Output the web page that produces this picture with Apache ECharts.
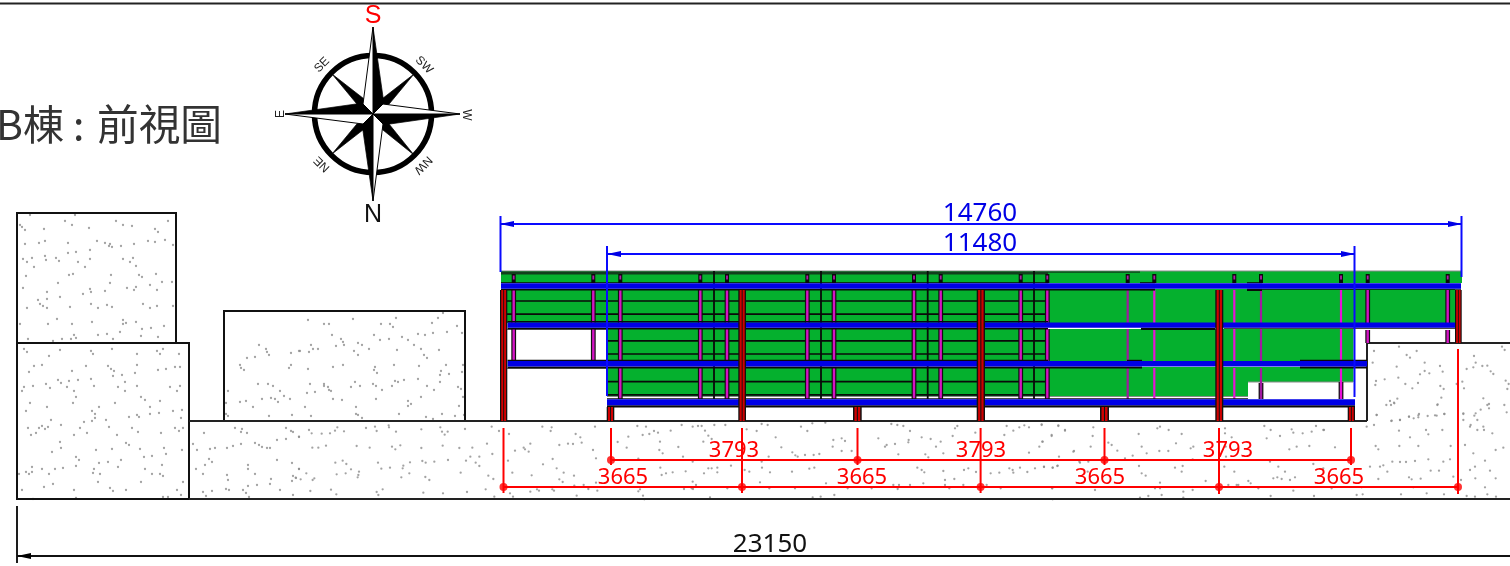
<!DOCTYPE html>
<html><head><meta charset="utf-8">
<style>html,body{margin:0;padding:0;background:#fff;overflow:hidden}#c{width:1510px;height:566px}</style>
<script src="https://cdn.jsdelivr.net/npm/echarts@6/dist/echarts.min.js"></script>
</head><body><div id="c"></div>
<script>
/* ---------- drawing values, in drawing units ---------- */
const groundOutlines = [[17,213,176,343],[17,343,189,499],[224,311,465,421]];
const groundLines = [[189,421,1367,421],[1367,343,1510,343],[1367,343,1367,421],[189,499,1510,499],[0,3.5,1510,3.5]];
const greenAreas = [[501,271,1462,283],[501,289,1455,323],[607,329,1353.5,362],[607,367,1248,396],[1248,367,1353.5,382]];
const railGray = [[501,271,1462,271],[1248,382,1353,382],[607,396.5,1248,396.5],[507,329.5,607,329.5],[507,368.5,607,368.5]];
const darkStrip = [[501,271.5,1048,274.6],[1048,271.5,1140,272.8]];
const thinHorizontal = [[507,301,1048,301],[507,314.2,1048,314.2],[607,340.8,1048,340.8],[607,354,1048,354],[607,381.7,1048,381.7],[607,394.8,1048,394.8]];
const thinVerticalX = [714,821,927.7,1034];
const outlinedPostX = [620.3,700.3,727,807.3,834,914,940.7,1020.7,1047.3];
const outlinedPostShortX = [513.7,593.3];
const thinPostMagentaX = [1154.3,1234.3,1341];
const thinPostPurpleX = [1127.7,1261];
const outlinedPostEndX = [1367.7,1447.7];
const outlinedPostExtra = [[1261,383,399],[1341,382,399]];
const beams = [[501,283.3,1461,288.7],[507.5,322.5,1455,327.7],[507.5,361,1367,366.5],[607,399.2,1355,405.3]];
const beamUnder = [[501,288.7,1140,290.6],[1140,288.7,1155,290.6],[1247,288.7,1262,291],[1262,288.7,1461,289.8],[507.5,327.7,1048,329.6],[1141,327.7,1215,330],[1224,327.7,1455,328.8],[507.5,366.5,1142,368.6],[1300,366.5,1367,368.6],[607,405.3,1355,407.6]];
const beamOver = [[501,282.2,1048,283.3],[1140,282.2,1155,283.3],[1247,282.2,1262,283.3],[507.5,321,1048,322.5],[507.5,359.8,1048,361],[1127,359.8,1142,361],[1300,359.8,1367,361],[607,398.2,1248,399.2]];
const tallColumns = [[500,290,507.3,421],[738.3,290,746,421],[976.7,290,985,421],[1215.3,290,1223.3,421],[1455,290,1461.7,343]];
const shortColumns = [[606.7,407,614.3,421],[853,407,861.7,421],[1100,407,1109,421],[1347.7,407,1355,421]];
const blueLines = [[500,224,1462,224],[607,254,1355,254],[500.5,216,500.5,272],[1461.5,216,1461.5,277],[607,246,607,396],[1354.5,246,1354.5,397]];
const blueArrows = [[[500,224],[514,221],[514,227]],[[1462,224],[1448,221],[1448,227]],[[607,254],[621,251],[621,257]],[[1355,254],[1341,251],[1341,257]]];
const blackDimLines = [[17,556,1510,556],[17,506,17,563]];
const blackArrows = [[[17,556],[31,553],[31,559]]];
const redDim1X = [611,857.5,1104.5,1351];
const redDim2X = [503.5,742,980.6,1219,1458];
const redLines = [[611,460,1351,460],[503.5,487,1458,487],[611,428,611,465],[857.5,428,857.5,465],[1104.5,428,1104.5,465],[1351,428,1351,465],[503.5,428,503.5,493],[742,428,742,493],[980.6,428,980.6,493],[1219,428,1219,494],[1458,349,1458,494]];
const redDots1Y = 460, redDots2Y = 487;

const dimTexts = [
 ['14760',980,214,26,'#0000e6'],['11480',980,244,26,'#0000e6'],
 ['3793',734,451,22,'#ff0000'],['3793',981,451,22,'#ff0000'],['3793',1228,451,22,'#ff0000'],
 ['3665',623,478,22,'#ff0000'],['3665',862,478,22,'#ff0000'],['3665',1100,478,22,'#ff0000'],['3665',1339,478,22,'#ff0000'],
 ['23150',770,545,26,'#111111']];
const compassCenter = [373,114];
const compassTexts = [
 ['S',373,16,25,'#ff0000',0],['N',373,215,25,'#111111',0],
 ['SE',322,65,12,'#222222',45],['SW',424,65,12,'#222222',-45],
 ['E',281,114,12,'#222222',90],['W',466,115,12,'#222222',-90],
 ['NE',322,164,12,'#222222',135],['NW',423,165,12,'#222222',-135]];
const compassBlack = [
 [[332,74],[361,109],[368,102]],
 [[414,74],[378,102],[385,109]],
 [[332,154],[361,119],[368,126]],
 [[414,155],[385,119],[378,126]],
 [[373,27],[384,104],[373,114]],[[285,114],[363,103],[373,114]],
 [[373,201],[362,124],[373,114]],[[460,114],[383,125],[373,114]]];
const compassWhite = [
 [[373,27],[363,104],[373,114]],[[285,114],[363,124],[373,114]],
 [[373,201],[383,124],[373,114]],[[460,114],[383,104],[373,114]]];

/* speckle: drawing units */
const speckleTallBlock = [[30,215],[75,215],[65,221],[116,221],[168,221],[20,225],[22,227],[25,230],[44,229],[72,225],[89,228],[123,225],[132,226],[155,229],[158,232],[25,244],[39,243],[45,241],[68,243],[97,241],[105,243],[110,244],[109,246],[112,247],[121,246],[134,244],[148,241],[155,242],[165,240],[173,245],[90,250],[68,253],[76,252],[23,259],[32,258],[45,256],[46,260],[27,262],[34,267],[56,258],[59,261],[78,262],[90,259],[85,267],[123,259],[130,262],[133,258],[136,266],[26,276],[69,275],[73,274],[111,275],[139,275],[142,277],[156,274],[58,283],[110,283],[162,282],[172,282],[150,285],[23,288],[90,289],[91,292],[47,292],[83,294],[105,291],[127,288],[136,287],[134,290],[157,290],[60,297],[38,300],[47,299],[40,304],[43,306],[47,308],[27,308],[70,307],[91,304],[98,308],[107,305],[112,307],[143,304],[150,308],[157,306],[173,306],[57,319],[123,320],[20,324],[48,324],[72,324],[92,322],[123,324],[126,323],[136,322],[164,326],[142,329],[151,328],[120,332],[98,335],[107,334],[74,335],[141,336],[158,337],[76,338],[71,339],[62,339],[113,339],[28,339],[53,341]];
const speckleLowerLeft = [[24,349],[27,352],[60,350],[49,356],[91,351],[93,354],[112,349],[137,354],[157,351],[163,349],[160,354],[179,354],[34,366],[42,365],[29,372],[72,371],[86,366],[108,366],[111,369],[114,371],[137,365],[158,370],[166,369],[175,367],[180,367],[113,376],[122,375],[135,373],[91,379],[58,380],[61,383],[69,381],[78,380],[125,382],[46,384],[24,387],[33,386],[50,388],[22,391],[67,387],[74,391],[94,386],[118,387],[125,391],[137,386],[170,387],[177,391],[180,386],[76,397],[141,397],[145,400],[30,403],[73,403],[115,403],[160,401],[47,407],[99,407],[150,407],[26,411],[92,411],[173,411],[182,410],[95,414],[95,418],[150,414],[159,413],[129,417],[137,415],[139,417],[181,418],[51,420],[92,421],[84,422],[106,420],[61,425],[28,428],[39,428],[42,426],[45,429],[48,427],[80,428],[109,427],[132,428],[175,428],[183,428],[179,431],[36,433],[31,435],[74,435],[87,433],[117,435],[138,432],[161,433],[60,442],[126,443],[129,445],[61,448],[96,450],[112,449],[140,449],[164,448],[182,450],[52,452],[166,454],[76,457],[79,460],[144,457],[152,456],[121,460],[99,463],[108,462],[162,465],[32,467],[76,466],[118,467],[42,469],[55,469],[63,468],[94,469],[145,469],[26,472],[32,472],[19,474],[29,474],[49,474],[93,473],[100,474],[152,474],[160,474],[163,476],[98,482],[141,482],[183,482],[53,484],[44,487],[110,488],[22,490],[74,490],[113,491],[126,490],[177,490],[181,495],[163,497],[168,497],[76,498],[33,499]];
const speckleGroundLeft = [[204,433],[235,428],[242,429],[241,432],[247,433],[286,428],[291,431],[293,432],[299,437],[277,440],[286,439],[255,443],[259,445],[262,447],[267,448],[270,448],[241,444],[233,446],[227,448],[215,448],[210,449],[193,444],[197,450],[209,459],[212,462],[205,465],[248,465],[248,469],[277,460],[292,463],[299,469],[196,469],[203,474],[227,475],[255,474],[228,480],[271,479],[293,476],[296,478],[292,481],[248,486],[257,485],[270,484],[226,489],[229,490],[243,490],[280,490],[203,492],[212,491],[246,493],[293,495],[206,496],[249,497]];
const speckleMiddleBlock = [[259,345],[266,349],[267,352],[269,355],[255,357],[247,358],[291,353],[299,351],[240,365],[241,368],[244,370],[291,365],[289,368],[258,384],[268,384],[273,386],[280,391],[284,396],[290,399],[228,391],[262,399],[271,398],[275,399],[278,402],[240,402],[246,401],[253,407],[226,403],[226,414],[228,416],[269,416],[292,415],
 [308,320],[324,324],[329,324],[353,319],[381,324],[390,324],[393,327],[396,318],[432,323],[438,318],[443,313],[457,326],[332,335],[374,335],[418,334],[425,335],[433,333],[447,332],[462,333],[341,339],[343,342],[344,345],[336,346],[358,343],[362,345],[380,340],[389,339],[402,337],[408,340],[414,345],[311,345],[313,349],[318,349],[300,351],[309,352],[354,351],[369,349],[397,350],[421,349],[439,350],[358,355],[424,355],[427,358],[308,369],[333,367],[343,365],[375,367],[374,370],[377,373],[394,365],[419,366],[446,365],[463,365],[441,371],[440,375],[449,374],[462,372],[418,379],[404,380],[395,381],[398,382],[440,382],[355,382],[310,384],[324,384],[324,386],[328,387],[351,387],[360,386],[373,384],[376,386],[392,386],[427,386],[458,387],[329,390],[331,391],[382,390],[434,390],[461,389],[307,393],[315,392],[463,397],[333,399],[342,400],[376,399],[421,397],[408,401],[411,404],[408,406],[305,407],[356,407],[459,406],[399,414],[356,414],[358,415],[311,416],[362,418],[426,417],[442,414],[455,416],[433,419],[464,415]];
/* speckle measured on 3x crops: [crop x, crop y]; crop origins below */
const speckleCropA = [[12,50],[42,30],[50,40],[80,41],[105,40],[120,32],[127,22],[147,34],[213,24],[240,20],[245,33],[281,16],[282,22],[303,35],[379,28],[436,22],[441,35],[449,44],[458,35],[510,27],[590,20],[612,33],[642,42],[742,20],[770,22],[767,33],[900,20],[842,42],[856,52],[1000,50],[1027,18],[1053,20],[1043,45],[1063,42],[1077,33],[1089,38],[1127,32],[1160,15],[52,83],[70,83],[93,77],[185,78],[224,83],[291,80],[301,88],[316,76],[379,84],[443,77],[493,84],[532,83],[576,71],[686,83],[706,71],[690,88],[701,95],[660,92],[793,75],[819,71],[834,72],[860,68],[894,90],[968,66],[995,83],[1095,65],[1093,90],[1103,100],[1150,81],[1164,110],[592,102],[526,110],[513,122],[553,110],[382,123],[392,128],[418,125],[459,120],[121,128],[143,122],[154,132],[249,128],[345,127],[325,137],[542,128],[553,138],[639,122],[773,117],[903,115],[744,133],[1030,116],[1193,125],[12,147],[34,160],[125,163],[152,160],[168,148],[192,155],[190,165],[259,146],[285,143],[323,145],[343,160],[497,158],[652,158],[710,166],[785,145],[806,158],[837,167],[1096,143],[1113,160],[1100,165],[1133,157],[1172,154],[2,173],[17,178],[58,175],[53,180],[188,172],[319,172],[391,171],[403,180],[580,167],[595,177],[793,178],[803,186],[838,197],[866,195],[903,188],[46,213],[108,209],[124,223],[245,216],[250,225],[263,208],[385,218],[444,220],[516,216],[572,208],[598,230],[645,220],[654,230],[706,215],[726,208],[732,212],[772,208],[777,212],[880,207],[907,212],[1035,208],[1030,214],[1167,207],[1194,207],[845,227],[1044,227],[1048,238]];
const speckleCropB = [[8,20],[24,18],[35,18],[73,15],[106,15],[215,12],[233,15],[45,32],[170,28],[200,33],[333,20],[367,10],[406,8],[604,12],[622,15],[640,18],[352,33],[660,33],[802,18],[795,25],[950,18],[970,32],[988,22],[1003,16],[1017,22],[1055,13],[1105,16],[856,38],[943,45],[1125,32],[55,47],[65,57],[40,65],[257,52],[274,82],[430,60],[455,55],[465,63],[428,80],[565,55],[695,52],[722,57],[656,60],[655,67],[615,72],[590,75],[585,80],[738,80],[788,48],[1085,45],[1057,65],[1048,80],[752,65],[455,93],[485,93],[307,97],[316,106],[323,110],[345,105],[371,105],[388,102],[236,110],[625,103],[706,103],[715,112],[760,100],[1017,98],[1150,95],[215,125],[123,137],[55,145],[65,145],[82,143],[42,160],[82,157],[164,150],[178,155],[216,143],[240,157],[306,155],[358,146],[373,143],[682,143],[695,150],[703,157],[760,153],[822,150],[835,145],[858,156],[902,160],[928,158],[958,145],[968,150],[970,158],[990,143],[1012,156],[1035,145],[1062,141],[1088,143],[1103,137],[1170,128],[1193,155],[8,185],[18,195],[210,187],[408,190],[793,177],[765,180],[700,190],[660,195],[610,195],[627,195],[765,195],[820,195],[890,195],[5,205],[112,205],[238,205],[315,205],[473,205],[545,205],[623,207],[778,205],[932,205],[1087,205],[60,232],[368,232],[392,230],[433,225],[1088,238]];
const speckleCropC = [[5,75],[55,78],[75,90],[35,108],[8,125],[160,82],[158,108],[205,128],[215,135],[102,153],[152,140],[232,152],[57,170],[118,185],[145,185],[255,175],[278,167],[320,160],[360,80],[386,90],[352,85],[425,102],[296,102],[305,140],[358,153],[385,153],[408,130],[452,145],[460,140],[458,178],[12,200],[38,203],[52,198],[165,270],[297,198],[305,220],[317,227],[405,203],[428,198],[425,215],[360,248],[497,243],[555,85],[555,100],[575,112],[557,140],[558,170],[553,200],[583,215],[595,255],[625,243],[632,250],[673,78],[692,90],[680,115],[720,108],[760,98],[788,100],[815,95],[852,90],[748,148],[770,140],[808,138],[885,142],[690,185],[820,192],[850,205],[715,200],[735,215],[700,235],[712,232],[725,237],[750,240],[765,232],[36,265],[345,265],[360,265],[430,275],[458,270],[565,255],[590,255],[655,265],[760,272],[875,265],[300,293],[325,288],[365,285],[430,293],[692,288],[822,288],[950,285],[968,283],[1083,283],[1160,280],[1212,283],[1120,262],[965,262],[1280,288],[1305,290],[1342,283],[1368,290],[1010,45],[1055,62],[1080,60],[1107,50],[1135,52],[1163,48],[1190,47],[1213,42],[1137,42],[980,80],[1002,75],[1077,92],[1158,90],[1165,103],[1207,90],[1270,42],[1307,40],[1292,75],[1312,90],[1332,90],[1357,100],[1053,15],[1062,8],[1192,15],[1342,15],[1393,15],[1270,60],[1110,112],[1007,138],[1015,148],[1078,138],[1135,138],[1232,138],[1275,135],[1300,160],[1367,150],[1390,143],[1418,140],[1057,185],[1080,186],[1098,186],[1125,183],[1165,178],[1210,185],[1172,212],[1197,212],[1230,178],[1335,182],[990,200],[1020,200],[1030,196],[1042,215],[1015,237],[1107,232],[1115,238],[1142,236],[1305,200],[1290,210],[1350,212],[1240,230],[1263,240],[1306,235],[1367,235],[1335,262]];
const speckleCropD = [[387,410],[312,423],[410,435],[440,423],[420,443],[308,458],[380,470],[464,458],[510,468],[612,438],[590,477],[617,458],[637,468],[652,467],[662,484],[670,492],[696,410],[704,420],[610,472],[518,485],[450,493],[464,483],[478,490],[385,503],[344,508],[318,513],[316,525],[406,522],[444,519],[427,535],[511,528],[521,537],[577,515],[560,522],[582,535],[707,512],[716,522],[712,537],[640,565],[382,566],[360,573],[373,580],[349,585],[514,563],[503,583],[657,582],[632,599],[657,595],[320,615],[495,616],[523,612],[580,610],[613,617],[622,630],[710,607],[364,633],[390,630],[417,620],[431,625],[445,616],[600,650],[640,650],[65,658],[138,648],[160,660]];
const cropOrigins = {A:[295,420],B:[690,420],C:[1040,400],D:[1270,210]};
const titleHead = 'B棟 :';
const titleTail = '前視圖';

/* ---------- building the layers ---------- */
const P1=[[290,323],[329,361],[368,399]], P2=[[290,323],[329,361]], P3=[[290,323],[330,343]];
const expand=(xs,spans,w)=>xs.flatMap(x=>spans.map(s=>[x-w/2,s[0],x+w/2,s[1]]));
const crop=(arr,o)=>arr.map(p=>[o[0]+p[0]/3,o[1]+p[1]/3]);
const allPostX=[...outlinedPostShortX,...outlinedPostX];
const stubX=[...allPostX,...thinPostMagentaX,...thinPostPurpleX,...outlinedPostEndX];
const extraBlack=outlinedPostExtra.map(r=>[r[0]-2.4,r[1],r[0]+2.4,r[2]]);
const extraColor=outlinedPostExtra.map(r=>[r[0]-1.1,r[1],r[0]+1.1,r[2]]);
const colInner=(rows)=>rows.flatMap(r=>{const w=r[2]-r[0];return [[r[0]+w*.17,r[1],r[0]+w*.44,r[3]],[r[0]+w*.56,r[1],r[0]+w*.83,r[3]]];});
const vline=xs=>xs.map(x=>[x,271,x,399]);
const redDots=[...redDim1X.map(x=>[x,redDots1Y]),...redDim2X.map(x=>[x,redDots2Y])];
const specks=[...speckleTallBlock,...speckleLowerLeft,...speckleGroundLeft,...speckleMiddleBlock,
  ...crop(speckleCropA,cropOrigins.A),...crop(speckleCropB,cropOrigins.B),...crop(speckleCropC,cropOrigins.C),...crop(speckleCropD,cropOrigins.D)];

let seq=0;
const base=(name,rows,render)=>({type:'custom',name,coordinateSystem:'cartesian2d',silent:true,animation:false,clip:false,z:2+(seq++)*0.01,
  data:rows.map((r,i)=>[i,0]),encode:{x:0,y:1},renderItem:(p,api)=>render(rows[p.dataIndex],api)});
const rects=(name,rows,fill)=>base(name,rows,(r,api)=>{const a=api.coord([r[0],r[1]]),b=api.coord([r[2],r[3]]);
  return {type:'rect',shape:{x:a[0],y:a[1],width:b[0]-a[0],height:b[1]-a[1]},style:{fill}};});
const lines=(name,rows,stroke,lineWidth)=>base(name,rows,(r,api)=>{const a=api.coord([r[0],r[1]]),b=api.coord([r[2],r[3]]);
  return {type:'line',shape:{x1:a[0],y1:a[1],x2:b[0],y2:b[1]},style:{stroke,lineWidth,fill:null}};});
const boxes=(name,rows,stroke,lineWidth)=>base(name,rows,(r,api)=>{const a=api.coord([r[0],r[1]]),b=api.coord([r[2],r[3]]);
  return {type:'rect',shape:{x:a[0],y:a[1],width:b[0]-a[0],height:b[1]-a[1]},style:{fill:'none',stroke,lineWidth}};});
const polys=(name,rows,fill,stroke,lineWidth)=>base(name,rows,(r,api)=>({type:'polygon',shape:{points:r.map(p=>api.coord(p))},style:{fill,stroke:stroke||null,lineWidth:lineWidth||0}}));
const texts=(name,rows,family)=>base(name,rows,(r,api)=>{const a=api.coord([r[1],r[2]]);
  return {type:'text',x:a[0],y:a[1],rotation:(r[5]||0)*Math.PI/180,style:{text:r[0],fontSize:r[3],fontFamily:family,fill:r[4],align:r[6]||'center',verticalAlign:'middle'}};});
const ring=(name,c,r,w)=>base(name,[c],(v,api)=>{const a=api.coord(v);return {type:'circle',shape:{cx:a[0],cy:a[1],r},style:{fill:'none',stroke:'#000',lineWidth:w}};});

const series=[
  {type:'scatter',name:'speckle',data:specks,symbol:'circle',symbolSize:2.3,silent:true,animation:false,z:1,itemStyle:{color:'#8c8c8c'}},
  boxes('blocks',groundOutlines,'#111',2),
  lines('ground',groundLines,'#222',2),
  rects('green',greenAreas,'#05b02e'),
  lines('gray rails',railGray,'#8a8a8a',1.2),
  rects('dark strip',darkStrip,'#123f1d'),
  lines('thin h',thinHorizontal,'#0a0a0a',1.7),
  lines('thin v',vline(thinVerticalX),'#0a0a0a',1.8),
  rects('stub black',expand(stubX,[[274,283]],4),'#0a0a0a'),
  rects('stub magenta',expand(stubX,[[275.5,279.5]],1.8),'#b01aa8'),
  rects('post black',[...expand(outlinedPostX,P1,4.8),...expand(outlinedPostShortX,P2,4.8),...expand(outlinedPostEndX,P3,4.8),...extraBlack],'#111'),
  rects('post magenta',[...expand(outlinedPostX,P1,2.4),...expand(outlinedPostShortX,P2,2.4),...expand(outlinedPostEndX,P3,2.4)],'#d414c4'),
  rects('post extra',extraColor,'#a020a0'),
  rects('thin post m',expand(thinPostMagentaX,P1,2.2),'#e810d8'),
  rects('thin post p',expand(thinPostPurpleX,P1,2.2),'#a01aa0'),
  rects('beam over',beamOver,'#0a0a0a'),
  rects('beam under',beamUnder,'#0a0a0a'),
  rects('beams',beams,'#0000e6'),
  rects('columns',[...tallColumns,...shortColumns],'#111'),
  rects('columns red',colInner([...tallColumns,...shortColumns]),'#d00000'),
  lines('blue dims',blueLines,'#0a0aff',2),
  polys('blue arrows',blueArrows,'#0000e6'),
  lines('black dims',blackDimLines,'#111',1.9),
  polys('black arrows',blackArrows,'#000'),
  lines('red dims',redLines,'#ff0000',2),
  {type:'scatter',name:'red nodes',data:redDots,symbol:'circle',symbolSize:8,silent:true,animation:false,z:3,itemStyle:{color:'#ff0000'}},
  ring('compass ring',compassCenter,58.5,5.6),
  polys('compass black',compassBlack,'#000','#000',0.7),
  polys('compass white',compassWhite,'#fff','#000',1),
  texts('compass text',compassTexts,'Liberation Sans'),
  texts('dimension text',dimTexts,'Noto Sans'),
  texts('title',[[titleHead,-4,124,41,'#333333',0,'left'],[titleTail,97,124,41.7,'#333333',0,'left']],'Noto Sans CJK TC')
];

const chart=echarts.init(document.getElementById('c'),null,{width:1510,height:566});
chart.setOption({
  animation:false,backgroundColor:'#fff',
  grid:{left:0,right:0,top:0,bottom:0},
  xAxis:{type:'value',min:0,max:1510,show:false},
  yAxis:{type:'value',min:0,max:566,inverse:true,show:false},
  series
});
</script></body></html>
